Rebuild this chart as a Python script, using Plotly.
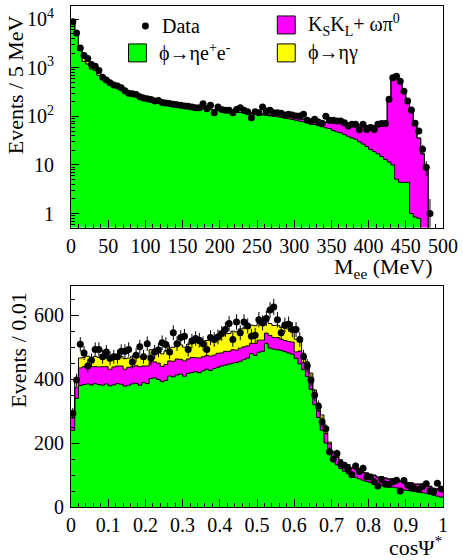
import numpy as np
import plotly.graph_objects as go

# ---------------- M_ee spectrum: 100 bins of 5 MeV from 0 to 500 MeV ----------------
mee_edges = np.arange(0, 505, 5)

mee_data = [
    8800, 5190, 2560, 1780, 1550, 1170, 1070, 880, 640, 560,
    490, 440, 420, 390, 335, 300, 292, 283, 253, 240,
    230, 221, 207, 212, 192, 188, 184, 177, 174, 170,
    163, 162, 156, 151, 151, 182, 144, 169, 119, 156,
    139, 133, 133, 119, 139, 151, 133, 125, 94, 125,
    119, 156, 129, 133, 119, 119, 116, 107, 110, 107,
    102, 102, 110, 83, 78, 87, 77, 72, 100, 83,
    83, 80, 80, 74, 63, 69, 69, 53, 69, 54,
    59, 54, 69, 71, 71, 225, 620, 670, 530, 330,
    207, 135, 72, 50, 21, 9, 1, 0, 0, 0,
]

# phi -> eta e+ e-
mee_signal = [
    8900, 4700, 2480, 1350, 1200, 950, 880, 700, 620, 565,
    500, 452, 415, 385, 352, 322, 300, 281, 266, 250,
    238, 229, 218, 210, 203, 195, 188, 183, 176, 171,
    166, 162, 157, 153, 149, 146, 144, 140, 137, 134,
    132, 129, 126, 125, 122, 120, 118, 116, 113, 111,
    109, 107, 105, 102, 100, 98, 95, 92, 89, 86,
    83, 80, 77, 74, 71, 68, 64, 61, 58, 56,
    51, 48, 46, 42, 39, 36, 34, 30, 27, 24,
    21, 19, 17, 15, 13, 11.5, 10, 5.1, 4.4, 4.4,
    4.4, 1.0, 0.85, 0.8, 0, 0, 0, 0, 0, 0,
]

# K_S K_L + omega pi0
mee_bkg = [0] * 48 + [
    5, 3, 4, 6, 6, 5, 7, 8, 8, 7,
    9, 9, 8, 9, 11, 12, 11, 13, 15, 17,
    18, 20, 23, 26, 29, 31, 33, 34, 36, 37,
    39, 41, 44, 46, 49, 52, 56, 215, 600, 660,
    520, 325, 200, 130, 80, 35, 17, 8, 0, 0,
    0, 0,
]

# phi -> eta gamma
mee_etagamma = [0, 120, 90, 440, 360, 260, 210, 180, 15] + [0] * 91

# ---------------- cos Psi* distribution: 100 bins of 0.01 from 0 to 1 ----------------
cos_edges = np.round(np.arange(0, 1.005, 0.01), 2)

cos_data = [
    293, 397, 509, 482, 441, 459, 493, 493, 470, 485,
    465, 470, 470, 487, 487, 493, 454, 475, 501, 470,
    511, 465, 485, 491, 514, 508, 485, 545, 511, 530,
    534, 493, 519, 527, 522, 511, 493, 530, 524, 532,
    543, 555, 574, 524, 579, 545, 579, 566, 534, 537,
    586, 576, 590, 616, 626, 586, 545, 569, 572, 555,
    555, 524, 470, 442, 397, 350, 315, 267, 245, 173,
    150, 167, 135, 130, 118, 101, 128, 111, 121, 95,
    94, 79, 66, 86, 71, 70, 79, 84, 50, 83,
    68, 61, 57, 55, 64, 73, 51, 48, 74, 56,
]

cos_signal = [
    240, 340, 380, 383, 385, 382, 386, 383, 381, 385,
    379, 382, 386, 384, 378, 381, 385, 387, 381, 389,
    386, 402, 404, 399, 392, 396, 410, 407, 413, 416,
    409, 418, 421, 423, 420, 426, 431, 427, 433, 437,
    441, 444, 447, 450, 452, 456, 461, 466, 480, 474,
    484, 487, 511, 497, 494, 492, 490, 486, 482, 478,
    465, 448, 430, 408, 368, 320, 280, 240, 200, 170,
    145, 132, 120, 112, 104, 98, 93, 88, 84, 80,
    77, 74, 71, 68, 66, 64, 62, 60, 52, 53,
    52, 50, 49, 47, 45, 43, 40, 37, 34, 31,
]

cos_bkg = [
    40, 35, 55, 56, 54, 57, 53, 55, 58, 54,
    52, 56, 55, 57, 53, 56, 54, 55, 58, 52,
    55, 52, 50, 51, 48, 50, 47, 49, 50, 46,
    48, 45, 47, 44, 46, 44, 43, 45, 42, 44,
    41, 43, 40, 42, 39, 41, 40, 38, 32, 38,
    38, 35, 33, 40, 36, 38, 35, 35, 36, 38,
    20, 40, 22, 25, 29, 25, 22, 30, 30, 28,
    25, 24, 26, 25, 27, 24, 26, 25, 23, 26,
    24, 25, 22, 26, 24, 23, 25, 22, 28, 24,
    23, 25, 22, 24, 23, 22, 24, 21, 22, 23,
]

cos_etagamma = [
    20, 28, 31, 30, 33, 29, 32, 30, 31, 34,
    29, 31, 32, 30, 33, 29, 31, 32, 30, 34,
    31, 38, 40, 42, 39, 43, 41, 44, 42, 45,
    43, 46, 44, 47, 45, 48, 47, 49, 50, 52,
    53, 55, 56, 58, 57, 60, 59, 58, 57, 55,
    52, 48, 45, 37, 38, 39, 37, 38, 39, 39,
    40, 34, 29, 21, 22, 21, 23, 18, 8, 5,
    4, 3, 2, 2, 2, 1, 1, 1, 1, 1,
    1, 1, 1, 1, 1, 1, 1, 1, 1, 1,
    1, 1, 1, 1, 1, 1, 1, 1, 1, 1,
]

GREEN, MAGENTA, YELLOW = "#00ff00", "#ff00ff", "#ffff00"
FONT = "Liberation Serif"

# frame geometry (pixels)
W, H = 463, 560
L, R, T, B = 71, 17, 5, 53
PW, PH = W - L - R, H - T - B


def px(x):
    return (x - L) / PW


def py(y):
    return (H - B - y) / PH


fig = go.Figure()


def step(edges, vals, floor=None):
    v = np.asarray(vals, dtype=float)
    if floor is not None:
        v = np.where(v > 0, v, floor)
    return list(edges), list(np.append(v, v[-1]))


def add_stack(edges, layers, xa, ya, floor):
    # baseline, then cumulative layers filled against the previous level
    base = floor if floor is not None else 0
    fig.add_trace(go.Scatter(x=[edges[0], edges[-1]], y=[base, base], mode="lines",
                             line=dict(width=0), hoverinfo="skip", showlegend=False,
                             xaxis=xa, yaxis=ya))
    cum = np.zeros(len(edges) - 1)
    for vals, color in layers:
        cum = cum + np.asarray(vals, dtype=float)
        xs, ys = step(edges, cum, floor)
        fig.add_trace(go.Scatter(x=xs, y=ys, mode="lines", line_shape="hv",
                                 line=dict(color="black", width=1),
                                 fill="tonexty", fillcolor=color,
                                 hoverinfo="skip", showlegend=False,
                                 xaxis=xa, yaxis=ya))


def add_data(edges, vals, xa, ya):
    centers = (np.asarray(edges[:-1]) + np.asarray(edges[1:])) / 2
    v = np.asarray(vals, dtype=float)
    keep = v > 0
    fig.add_trace(go.Scatter(x=centers[keep], y=v[keep], mode="markers",
                             marker=dict(color="black", size=7),
                             error_y=dict(type="data", array=np.sqrt(v[keep]),
                                          color="black", thickness=1, width=0),
                             hoverinfo="skip", showlegend=False,
                             xaxis=xa, yaxis=ya))


add_stack(mee_edges, [(mee_signal, GREEN), (mee_bkg, MAGENTA), (mee_etagamma, YELLOW)],
          "x", "y", floor=1e-2)
add_data(mee_edges, mee_data, "x", "y")

add_stack(cos_edges, [(cos_signal, GREEN), (cos_bkg, MAGENTA), (cos_etagamma, YELLOW)],
          "x2", "y2", floor=None)
add_data(cos_edges, cos_data, "x2", "y2")

axis_common = dict(showline=True, linecolor="black", linewidth=1, mirror=True,
                   ticks="inside", tickcolor="black", tickwidth=1, ticklen=8,
                   showgrid=False, zeroline=False,
                   tickfont=dict(family=FONT, size=20, color="black"))

top_lo = py(227)
bot_hi = py(286)

log_minor = [m * 10 ** d for d in range(-1, 5) for m in range(2, 10)]

fig.update_layout(
    width=W, height=H,
    margin=dict(l=L, r=R, t=T, b=B),
    paper_bgcolor="white", plot_bgcolor="white",
    showlegend=False,
    font=dict(family=FONT, color="black"),
    xaxis=dict(axis_common, domain=[0, 1], anchor="y", range=[0, 500],
               tickmode="array", tickvals=list(range(0, 501, 50)),
               minor=dict(ticks="inside", ticklen=4, tickcolor="black",
                          tickmode="array", tickvals=list(range(0, 501, 10)))),
    yaxis=dict(axis_common, domain=[top_lo, 1], anchor="x", type="log",
               range=[-0.287, 4.27], tickmode="array",
               tickvals=[1, 10, 100, 1000, 10000],
               ticktext=["1", "10", "10<sup>2</sup>", "10<sup>3</sup>", "10<sup>4</sup>"],
               ticklabelstandoff=12,
               minor=dict(ticks="inside", ticklen=4, tickcolor="black",
                          tickmode="array", tickvals=log_minor)),
    xaxis2=dict(axis_common, domain=[0, 1], anchor="y2", range=[0, 1],
                tickmode="array", tickvals=[round(0.1 * i, 1) for i in range(11)],
                ticktext=["0", "0.1", "0.2", "0.3", "0.4", "0.5", "0.6", "0.7", "0.8", "0.9", "1"],
                minor=dict(ticks="inside", ticklen=4, tickcolor="black",
                           tickmode="array", tickvals=[round(0.02 * i, 2) for i in range(51)])),
    yaxis2=dict(axis_common, domain=[0, bot_hi], anchor="x2", range=[0, 690],
                tickmode="array", tickvals=[0, 200, 400, 600],
                ticklabelstandoff=2,
                minor=dict(ticks="inside", ticklen=4, tickcolor="black",
                           tickmode="array", tickvals=list(range(0, 691, 50)))),
)

title_font = dict(family=FONT, size=22, color="black")
leg_font = dict(family=FONT, size=20, color="black")


def note(text, x, y, xanchor="left", yanchor="middle", font=leg_font, angle=0):
    fig.add_annotation(text=text, x=px(x), y=py(y), xref="paper", yref="paper",
                       xanchor=xanchor, yanchor=yanchor, showarrow=False,
                       font=font, textangle=angle)


# axis titles
note("Events / 5 MeV", 15, 84, xanchor="center", font=title_font, angle=-90)
note("M<sub>ee</sub> (MeV)", 438, 268, xanchor="right", font=title_font)
note("Events / 0.01", 18, 349, xanchor="center", font=title_font, angle=-90)
note("cosΨ<sup>*</sup>", 447, 546, xanchor="right", font=title_font)

# legend
fig.add_shape(type="circle", xref="paper", yref="paper",
              x0=px(142.5), x1=px(149.5), y0=py(28.5), y1=py(21.5),
              fillcolor="black", line=dict(color="black", width=0))
note("Data", 161, 25)
for (x0, y0, color, label) in [
    (129, 43, GREEN, "ϕ→ηe<sup>+</sup>e<sup>-</sup>"),
    (279, 15, MAGENTA, "K<sub>S</sub>K<sub>L</sub>+ ωπ<sup>0</sup>"),
    (279, 43, YELLOW, "ϕ→ηγ"),
]:
    fig.add_shape(type="rect", xref="paper", yref="paper",
                  x0=px(x0), x1=px(x0 + 18), y0=py(y0 + 18), y1=py(y0),
                  fillcolor=color, line=dict(color="black", width=1))
    note(label, x0 + 29, y0 + 9)

fig.write_html("out.html")
